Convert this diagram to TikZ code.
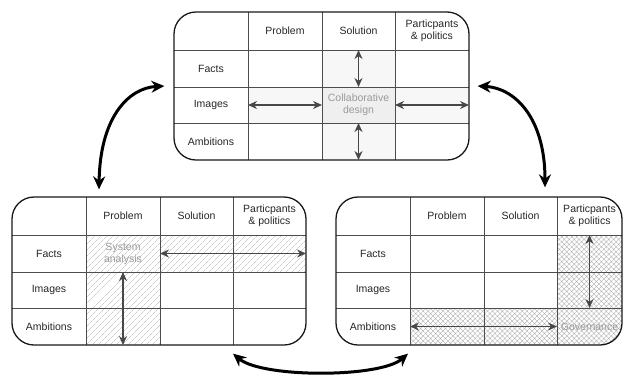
\documentclass[tikz,border=0pt]{standalone}
\usepackage{fontspec}
\setmainfont{Liberation Sans}
\usetikzlibrary{arrows.meta,calc,fit,patterns.meta}
\definecolor{inkgray}{HTML}{262626}
\definecolor{paleink}{HTML}{999999}
\definecolor{rulegray}{HTML}{4D4D4D}
\tikzset{
  panel/.style={draw=black!90, line width=1.3pt, rounded corners=22pt, inner sep=0pt},
  gridline/.style={rulegray, line width=0.8pt},
  txt/.style={text=inkgray, align=center, font=\fontsize{10.5}{12}\selectfont},
  note/.style={txt, text=paleink},
  cellarrow/.style={{Stealth[length=9pt,width=8pt]}-{Stealth[length=9pt,width=8pt]}, line width=1.4pt, draw=black!72},
  bigarrow/.style={{Stealth[length=13pt,width=12pt]}-{Stealth[length=13pt,width=12pt]}, line width=3pt},
  dotfill/.style={pattern={Dots[radius=0.35pt,distance=2pt]}, pattern color=gray!80},
  hatchfill/.style={pattern={Lines[angle=45,distance=4pt,line width=0.45pt]}, pattern color=gray!60},
  crossfill/.style={pattern={Hatch[angle=45,distance=3.5pt,line width=0.35pt]}, pattern color=gray!65},
}
% grid corners of one panel: #1 prefix, #2 right edge
\newcommand{\gridpoints}[2]{%
  \foreach \i/\x in {0/0,1/74,2/148,3/221,4/#2}
    \foreach \j/\y in {0/0,1/38,2/75,3/111,4/148}
      \coordinate (#1\i\j) at (\x,\y);%
}
% rules, headings and outline of one panel
\newcommand{\gridlabels}[1]{%
  \foreach \i in {1,2,3} \draw[gridline] (#1\i0) -- (#1\i4);
  \foreach \j in {1,2,3} \draw[gridline] (#10\j) -- (#14\j);
  \foreach \t [count=\i] in {Problem,Solution,{Particpants\\\& politics}}
    {\pgfmathtruncatemacro\k{\i+1}
     \node[txt] (#1h\i) at ($(#1\i0)!.5!(#1\k1)$) {\t};}
  \foreach \t [count=\j] in {Facts,Images,Ambitions}
    {\pgfmathtruncatemacro\k{\j+1}
     \node[txt] (#1r\j) at ($(#10\j)!.5!(#11\k)$) {\t};}
  \node[panel, fit=(#100)(#144)] (#1box) {};%
}

\begin{document}
\begin{tikzpicture}[x=1pt, y=-1pt]
\useasboundingbox (0,0) rectangle (623,378);

% top: collaborative design
\begin{scope}[shift={(174,12)}]
  \gridpoints{t}{295}
  \begin{scope}
    \clip[rounded corners=22pt] (t00) rectangle (t44);
    \fill[dotfill] (t21) rectangle (t34);
    \fill[dotfill] (t12) rectangle (t43);
  \end{scope}
  \gridlabels{t}
  \node[note] (tnote) at ($(t22)!.5!(t33)$) {Collaborative\\design};
  \draw[cellarrow] ($(t21)!.5!(t31)$) -- ($(t22)!.5!(t32)$);
  \draw[cellarrow] ($(t23)!.5!(t33)$) -- ($(t24)!.5!(t34)$);
  \draw[cellarrow] ($(t12)!.5!(t13)$) -- ($(t22)!.5!(t23)$);
  \draw[cellarrow] ($(t32)!.5!(t33)$) -- ($(t42)!.5!(t43)$);
\end{scope}

% left: system analysis
\begin{scope}[shift={(12,197)}]
  \gridpoints{l}{294}
  \begin{scope}
    \clip[rounded corners=22pt] (l00) rectangle (l44);
    \fill[hatchfill] (l11) rectangle (l42);
    \fill[hatchfill] (l12) rectangle (l24);
  \end{scope}
  \gridlabels{l}
  \node[note] (lnote) at ($(l11)!.5!(l22)$) {System\\analysis};
  \draw[cellarrow] ($(l21)!.5!(l22)$) -- ($(l41)!.5!(l42)$);
  \draw[cellarrow] ($(l12)!.5!(l22)$) -- ($(l14)!.5!(l24)$);
\end{scope}

% right: governance
\begin{scope}[shift={(336,197)}]
  \gridpoints{r}{286}
  \begin{scope}
    \clip[rounded corners=22pt] (r00) rectangle (r44);
    \fill[crossfill] (r31) rectangle (r44);
    \fill[crossfill] (r13) rectangle (r34);
  \end{scope}
  \gridlabels{r}
  \node[note] (rnote) at ($(r33)!.5!(r44)$) {Governance};
  \draw[cellarrow] ($(r31)!.5!(r41)$) -- ($(r33)!.5!(r43)$);
  \draw[cellarrow] ($(r13)!.5!(r14)$) -- ($(r33)!.5!(r34)$);
\end{scope}

% cycle between the panels
\draw[bigarrow] ([xshift=-9pt]tbox.west) .. controls (128,88) and (100,118) .. ([shift={(-60pt,7pt)}]lbox.north);
\draw[bigarrow] ([xshift=8pt]tbox.east) .. controls (515,88) and (545,118) .. ([shift={(66pt,9pt)}]rbox.north);
\draw[bigarrow] ([shift={(74pt,-8pt)}]lbox.south) .. controls (262,378) and (380,378) .. ([shift={(-71pt,-8pt)}]rbox.south);
\end{tikzpicture}
\end{document}
